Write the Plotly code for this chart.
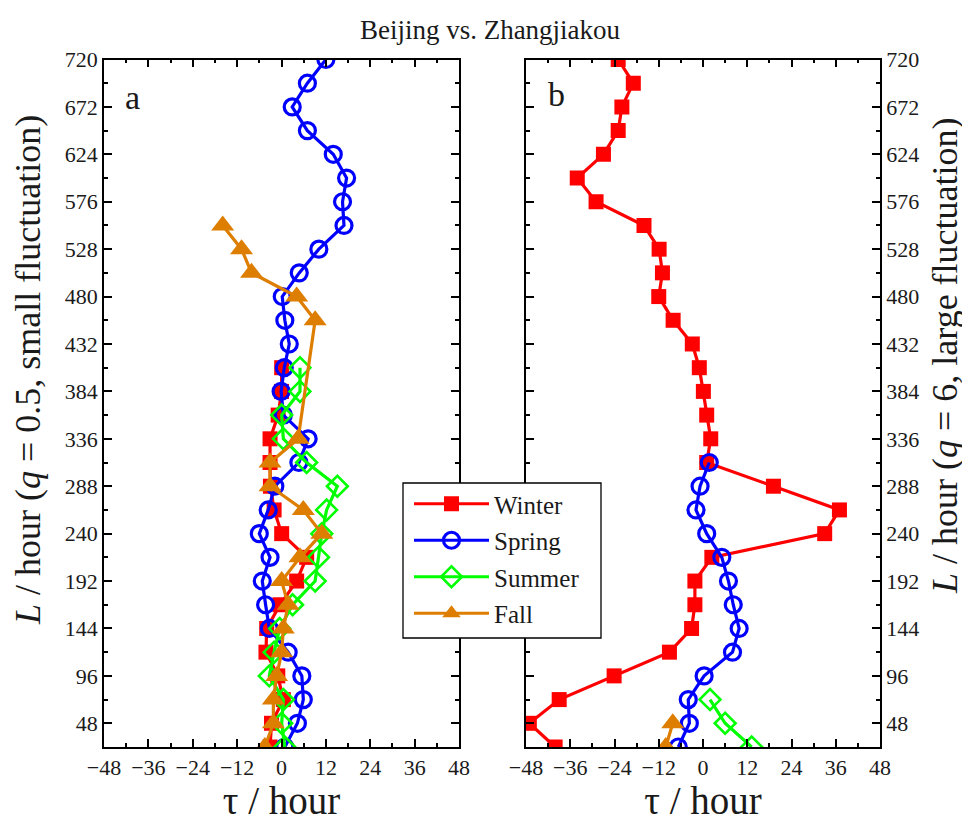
import plotly.graph_objects as go

# Time-window length L (hours), shared vertical axis
L = [24, 48, 72, 96, 120, 144, 168, 192, 216, 240, 264, 288, 312, 336, 360,
     384, 408, 432, 456, 480, 504, 528, 552, 576, 600, 624, 648, 672, 696, 720]

# Panel a (q = 0.5)
winter_a = [-3.1, -2.7, 0.5, -1.0, -4.2, -4.0, -0.4, 4.1, 6.8, 0.05, -2.0, -3.0,
            -3.1, -3.1, -0.9, 0.0, 0.05]
spring_a = [0.9, 4.3, 5.9, 5.5, 1.8, -3.3, -4.3, -5.2, -3.1, -6.0, -3.6, -1.8,
            4.7, 7.2, 0.5, -0.1, 0.75, 2.1, 0.9, 0.2, 4.8, 10.1, 16.9, 16.5,
            17.6, 14.0, 7.0, 2.9, 7.0, 12.0]
summer_a = [0.9, 0.05, 0.5, -3.3, -2.0, -0.5, 3.0, 9.1, 10.0, 10.9, 12.2, 15.1,
            6.8, 0.5, 0.05, 5.0, 5.0]
fall_a = [-4.5, -2.2, -2.2, -1.3, 0.05, 0.5, 1.8, 0.05, 5.0, 10.9, 5.9, -3.1,
          -3.1, 4.5, None, None, None, None, 9.1, 4.1, -8.1, -10.8, -15.9]

# Panel b (q = 6)
winter_b = [-40.1, -47.1, -39.0, -24.1, -9.1, -3.1, -2.2, -2.2, 2.4, 33.0, 37.0,
            19.1, 1.0, 2.1, 1.0, 0.1, -1.0, -2.9, -8.1, -12.0, -11.0, -11.9,
            -16.0, -29.0, -34.1, -27.0, -23.0, -22.0, -18.9, -23.0]
spring_b = [-6.7, -3.7, -4.0, 0.3, 8.0, 9.8, 8.2, 6.9, 5.1, 1.0, -1.9, -0.8, 1.7]
summer_b = [13.2, 6.0, 1.9]
fall_b = [-10.1, -8.2]

x_ticks = [-48, -36, -24, -12, 0, 12, 24, 36, 48]
y_ticks = [48, 96, 144, 192, 240, 288, 336, 384, 432, 480, 528, 576, 624, 672, 720]

# page body has an 8px margin: size the figure to fit and map reference pixels
OFF = 8
W, H = 970 - OFF, 822 - OFF


def fx(px):
    return (px - OFF) / W


def fy(py):
    return 1 - (py - OFF) / H


FONT = "'Liberation Serif', 'Times New Roman', serif"
TXT = "#1a1a1a"
RED, BLUE, GREEN, ORANGE = "#ff0000", "#0000ff", "#00ff00", "#de7e00"

styles = {
    "Winter": dict(color=RED, marker=dict(symbol="square", size=15, color=RED)),
    "Spring": dict(color=BLUE, marker=dict(symbol="circle-open", size=16, color=BLUE,
                                           line=dict(width=3.2, color=BLUE))),
    "Summer": dict(color=GREEN, marker=dict(symbol="diamond-open", size=16, color=GREEN,
                                            line=dict(width=2.6, color=GREEN))),
    "Fall": dict(color=ORANGE, marker=dict(symbol="triangle-up", size=20, color=ORANGE)),
}

fig = go.Figure()

panel_a = [("Winter", winter_a), ("Spring", spring_a), ("Summer", summer_a), ("Fall", fall_a)]
panel_b = [("Winter", winter_b), ("Spring", spring_b), ("Summer", summer_b), ("Fall", fall_b)]

for name, vals in panel_a:
    s = styles[name]
    fig.add_trace(go.Scatter(
        x=vals, y=L[:len(vals)], mode="lines+markers", name=name,
        line=dict(color=s["color"], width=3.2), marker=s["marker"],
        connectgaps=True, xaxis="x", yaxis="y", showlegend=True,
        legendgroup=name))
for name, vals in panel_b:
    s = styles[name]
    fig.add_trace(go.Scatter(
        x=vals, y=L[:len(vals)], mode="lines+markers", name=name,
        line=dict(color=s["color"], width=3.2), marker=s["marker"],
        connectgaps=True, xaxis="x2", yaxis="y2", showlegend=False,
        legendgroup=name))

ydom = [fy(747), fy(59.5)]
common_x = dict(range=[-48, 48], tickvals=x_ticks, ticks="inside", ticklen=8,
                tickwidth=1.5, tickcolor="black", automargin=False,
                minor=dict(dtick=6, tick0=0, ticks="inside", ticklen=4, tickcolor="black"),
                showline=True, linecolor="black", linewidth=1.5, mirror="allticks",
                showgrid=False, zeroline=False,
                tickfont=dict(family=FONT, size=22, color=TXT),
                title=dict(text="τ / hour", font=dict(family=FONT, size=39, color=TXT),
                           standoff=0))
common_y = dict(range=[24, 720], tickvals=y_ticks, ticks="inside", ticklen=8,
                tickwidth=1.5, tickcolor="black", automargin=False,
                minor=dict(dtick=24, tick0=0, ticks="inside", ticklen=4, tickcolor="black"),
                showline=True, linecolor="black", linewidth=1.5, mirror="allticks",
                showgrid=False, zeroline=False,
                tickfont=dict(family=FONT, size=22, color=TXT))

fig.update_layout(
    template="none",
    width=W, height=H,
    margin=dict(l=0, r=0, t=0, b=0, autoexpand=False),
    paper_bgcolor="white", plot_bgcolor="white",
    font=dict(family=FONT, color=TXT),
    title=dict(text="Beijing vs. Zhangjiakou", x=fx(490), xanchor="center",
               y=fy(30), yanchor="middle",
               font=dict(family=FONT, size=27, color=TXT)),
    xaxis=dict(domain=[fx(104), fx(459)], anchor="y", **common_x),
    xaxis2=dict(domain=[fx(526), fx(880)], anchor="y2", **common_x),
    yaxis=dict(domain=ydom, anchor="x", side="left", **common_y),
    yaxis2=dict(domain=ydom, anchor="x2", side="right", **common_y),
    legend=dict(x=fx(409), y=fy(481), xanchor="left", yanchor="top",
                bgcolor="rgba(0,0,0,0)", borderwidth=0,
                font=dict(family=FONT, size=25, color=TXT),
                tracegroupgap=1, itemwidth=75),
    shapes=[
        dict(type="rect", xref="paper", yref="paper", layer="above",
             x0=fx(403), x1=fx(601), y0=fy(638), y1=fy(483),
             fillcolor="white", line=dict(color="black", width=1.3)),
    ],
    annotations=[
        dict(text="<i>L</i> / hour (<i>q</i> = 0.5, small fluctuation)",
             x=fx(28), y=fy(370), xref="paper", yref="paper", textangle=-90,
             showarrow=False, xanchor="center", yanchor="middle",
             font=dict(family=FONT, size=36, color=TXT)),
        dict(text="<i>L</i> / hour (<i>q</i> = 6, large fluctuation)",
             x=fx(945), y=fy(356), xref="paper", yref="paper", textangle=-90,
             showarrow=False, xanchor="center", yanchor="middle",
             font=dict(family=FONT, size=36, color=TXT)),
        dict(text="a", x=fx(132), y=fy(97), xref="paper", yref="paper",
             showarrow=False, font=dict(family=FONT, size=34, color=TXT),
             xanchor="center", yanchor="middle"),
        dict(text="b", x=fx(556), y=fy(95), xref="paper", yref="paper",
             showarrow=False, font=dict(family=FONT, size=34, color=TXT),
             xanchor="center", yanchor="middle"),
    ],
)

fig.write_html("out.html")
